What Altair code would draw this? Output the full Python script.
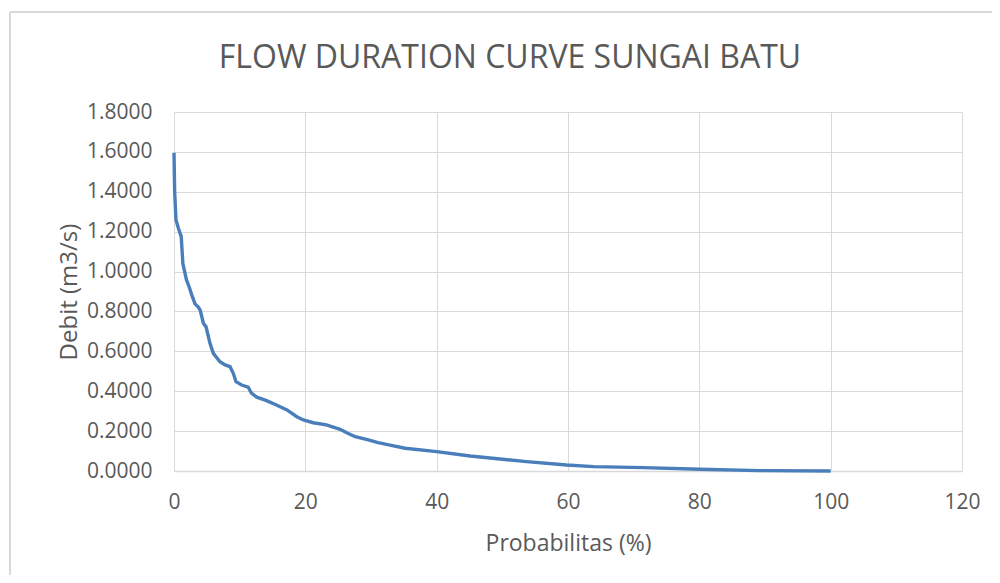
import altair as alt
import pandas as pd

probabilitas = [0, 0.1, 0.3, 0.65, 1.1, 1.35, 1.9, 2.3, 2.7, 3.2, 3.7, 4.0, 4.47, 4.87,
                5.48, 5.99, 7.0, 7.77, 8.53, 9.03, 9.44, 10.3, 11.3, 11.8, 12.6, 14.1,
                15.6, 17.2, 18.7, 19.7, 21.2, 23.2, 25.3, 26.3, 27.6, 29.3, 31.1, 32.9,
                35.2, 40.0, 45.1, 53.7, 59.8, 63.9, 71.5, 80.1, 89.2, 100.0]
debit = [1.596, 1.40, 1.259, 1.22, 1.175, 1.04, 0.958, 0.924, 0.883, 0.838, 0.822, 0.805,
         0.741, 0.724, 0.640, 0.590, 0.548, 0.532, 0.523, 0.490, 0.448, 0.431, 0.420,
         0.390, 0.370, 0.353, 0.331, 0.306, 0.272, 0.256, 0.242, 0.231, 0.209, 0.192,
         0.172, 0.159, 0.142, 0.130, 0.114, 0.097, 0.075, 0.047, 0.030, 0.022, 0.017,
         0.009, 0.002, 0.0]
x_ticks = [0, 20, 40, 60, 80, 100, 120]
y_ticks = [0.0, 0.2, 0.4, 0.6, 0.8, 1.0, 1.2, 1.4, 1.6, 1.8]
title_text = ["FLOW DURATION CURVE SUNGAI BATU"]

df = pd.DataFrame({"Probabilitas": probabilitas, "Debit": debit})
tdf = pd.DataFrame({"t": title_text})

FONT = "Open Sans"
TXT = "#595959"
GRID = "#d9d9d9"

line = alt.Chart(df).mark_line(color="#4a7ebb", strokeWidth=3.4).encode(
    x=alt.X("Probabilitas:Q",
            scale=alt.Scale(domain=[0, 120], nice=False),
            axis=alt.Axis(values=x_ticks, title="Probabilitas (%)", grid=True,
                          gridColor=GRID, domainColor=GRID, domainWidth=1.5,
                          ticks=False, tickSize=0, labelPadding=20, titlePadding=20,
                          labelFlush=False,
                          labelFontSize=21, titleFontSize=23, labelColor=TXT,
                          titleColor=TXT, labelFont=FONT, titleFont=FONT,
                          titleFontWeight="normal")),
    y=alt.Y("Debit:Q",
            scale=alt.Scale(domain=[0, 1.8], nice=False),
            axis=alt.Axis(values=y_ticks, format=".4f", title="Debit (m3/s)", grid=True,
                          gridColor=GRID, domain=False, ticks=False, tickSize=0,
                          labelPadding=22, titlePadding=5, labelFlush=False,
                          labelFontSize=21, titleFontSize=24, labelColor=TXT,
                          titleColor=TXT, labelFont=FONT, titleFont=FONT,
                          titleFontWeight="normal")),
)

title = alt.Chart(tdf).mark_text(font=FONT, fontSize=32, color=TXT, align="center",
                                 baseline="alphabetic").encode(
    text="t:N", x=alt.value(336), y=alt.value(-44))

frame_left = alt.Chart(tdf).mark_rule(color=GRID, strokeWidth=2).encode(
    x=alt.value(-164), y=alt.value(-100), y2=alt.value(480))
frame_top = alt.Chart(tdf).mark_rule(color=GRID, strokeWidth=2).encode(
    x=alt.value(-164), x2=alt.value(830), y=alt.value(-100))

chart = alt.layer(frame_left, frame_top, title, line).properties(
    width=788, height=359,
    autosize=alt.AutoSizeParams(type="none"),
    padding={"left": 166, "top": 104, "right": 30, "bottom": 104},
).configure_view(strokeWidth=0)

chart.save("out.html", embed_options={"renderer": "svg", "actions": False})
